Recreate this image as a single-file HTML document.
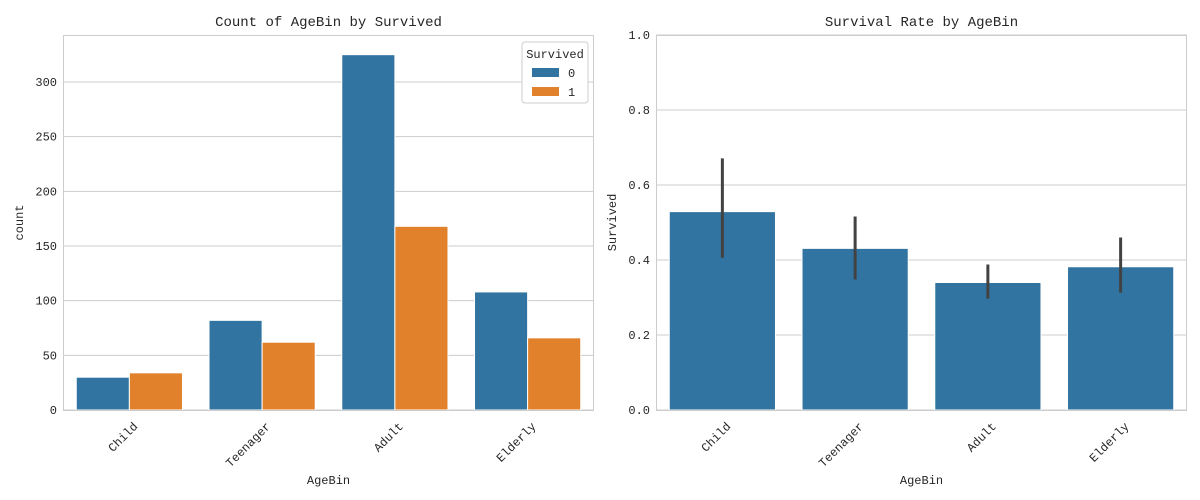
<!DOCTYPE html>
<html><head><meta charset="utf-8"><style>
body{margin:0;background:#fff}
svg{display:block;font-family:"Liberation Mono","Noto Sans CJK SC",monospace}
</style></head><body>
<svg id="c" width="1200" height="500"></svg>
<script>
const categories=["Child","Teenager","Adult","Elderly"];
const died=[30,82,325,108];
const survived=[34,62,168,66];
const rate=[0.529,0.431,0.34,0.382];
const ciLow=[0.406,0.348,0.297,0.313];
const ciHigh=[0.671,0.516,0.388,0.46];
const leftTicks=[0,50,100,150,200,250,300];
const rightTicks=[0,0.2,0.4,0.6,0.8,1.0];
const NS="http://www.w3.org/2000/svg";
const svg=document.getElementById('c');
function mk(t,a,p){const e=document.createElementNS(NS,t);for(const k in a)e.setAttribute(k,a[k]);(p||svg).appendChild(e);return e;}
function txt(s,a,p){const e=mk('text',a,p);e.textContent=s;return e;}
const yTop=35,bot=410;
function panel(x0,x1,ymax,ticks,fmt,title,ylabel,name){
  const g=mk('g',{});
  
  
  const y=v=>bot-(v/ymax)*(bot-yTop);
  const bw=(x1-x0)/categories.length;
  const xc=i=>x0+bw*(i+0.5);
  ticks.forEach(t=>{
    const l=mk('line',{x1:x0,x2:x1,y1:y(t),y2:y(t),stroke:'#cccccc','stroke-width':1},g);
    
    
    const tl=txt(fmt(t),{x:x0-6,y:y(t)+4,'text-anchor':'end','font-size':12,fill:'#262626'},g);
    
    
  });
  categories.forEach((c,i)=>{
    const tl=txt(c,{x:0,y:0,'text-anchor':'end','font-size':12,fill:'#262626',transform:`translate(${xc(i)+9},${bot+17}) rotate(-45)`},g);
    
    
  });
  const t=txt(title,{x:(x0+x1)/2,y:26,'text-anchor':'middle','font-size':14,fill:'#262626'},g);
  
  
  const xl=txt('AgeBin',{x:(x0+x1)/2,y:484,'text-anchor':'middle','font-size':12,fill:'#262626'},g);
  
  
  const yl=txt(ylabel,{x:0,y:0,'text-anchor':'middle','font-size':12,fill:'#262626',transform:`translate(${x0-40},${(yTop+bot)/2}) rotate(-90)`},g);
  
  
  return {g,y,bw,xc};
}
const L=panel(63,594,343,leftTicks,v=>String(v),'Count of AgeBin by Survived','count','count-panel');
categories.forEach((c,i)=>{
  const w=L.bw*0.4;
  const b0=mk('rect',{x:L.xc(i)-w,y:L.y(died[i]),width:w,height:bot-L.y(died[i]),fill:'#3274a1',stroke:'#fff','stroke-width':1},L.g);
  
  
  const b1=mk('rect',{x:L.xc(i),y:L.y(survived[i]),width:w,height:bot-L.y(survived[i]),fill:'#e1812c',stroke:'#fff','stroke-width':1},L.g);
  
  
});
mk('rect',{x:63.5,y:35.5,width:530,height:375,fill:'none',stroke:'#cccccc'},L.g);
const lg=mk('g',{},L.g);


mk('rect',{x:522,y:42,width:66,height:61,fill:'#fff',stroke:'#cccccc',rx:3},lg);
txt('Survived',{x:555,y:58,'text-anchor':'middle','font-size':12,fill:'#262626'},lg);
mk('rect',{x:532,y:68,width:27,height:9,fill:'#3274a1'},lg);
txt('0',{x:568,y:77,'font-size':12,fill:'#262626'},lg);
mk('rect',{x:532,y:87,width:27,height:9,fill:'#e1812c'},lg);
txt('1',{x:568,y:96,'font-size':12,fill:'#262626'},lg);
const R=panel(656,1187,1.0,rightTicks,v=>v.toFixed(1),'Survival Rate by AgeBin','Survived','rate-panel');
categories.forEach((c,i)=>{
  const w=R.bw*0.8;
  const b=mk('rect',{x:R.xc(i)-w/2,y:R.y(rate[i]),width:w,height:bot-R.y(rate[i]),fill:'#3274a1',stroke:'#fff','stroke-width':1},R.g);
  
  
  const e=mk('line',{x1:R.xc(i),x2:R.xc(i),y1:R.y(ciLow[i]),y2:R.y(ciHigh[i]),stroke:'#424242','stroke-width':3},R.g);
  
  
});
mk('rect',{x:656.5,y:35.5,width:530,height:375,fill:'none',stroke:'#cccccc'},R.g);
</script>
</body></html>
